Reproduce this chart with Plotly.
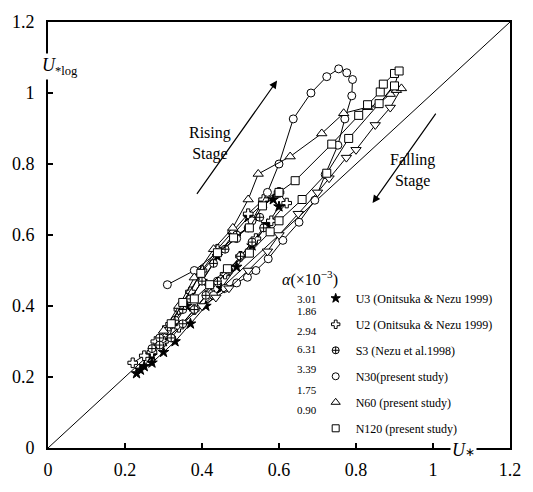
import plotly.graph_objects as go

# ---------------- data ----------------
u3_x = [0.23, 0.25, 0.27, 0.30, 0.33, 0.36, 0.40, 0.44, 0.48, 0.52, 0.56, 0.585,
        0.60, 0.57, 0.53, 0.49, 0.45, 0.41, 0.37, 0.33, 0.30, 0.27, 0.24]
u3_y = [0.21, 0.23, 0.26, 0.30, 0.35, 0.40, 0.47, 0.54, 0.60, 0.65, 0.69, 0.70,
        0.68, 0.63, 0.57, 0.51, 0.45, 0.40, 0.35, 0.30, 0.27, 0.24, 0.22]

u2_x = [0.22, 0.25, 0.28, 0.31, 0.34, 0.37, 0.40, 0.44, 0.48, 0.52, 0.56, 0.60,
        0.62, 0.58, 0.54, 0.50, 0.46, 0.42, 0.38, 0.34, 0.30, 0.27]
u2_y = [0.24, 0.26, 0.30, 0.34, 0.39, 0.44, 0.50, 0.56, 0.61, 0.66, 0.70, 0.72,
        0.69, 0.64, 0.59, 0.54, 0.49, 0.44, 0.39, 0.34, 0.30, 0.27]

s3_x = [0.27, 0.29, 0.31, 0.33, 0.35, 0.37, 0.40, 0.43, 0.46, 0.49, 0.52, 0.55,
        0.56, 0.53, 0.50, 0.47, 0.44, 0.41, 0.38, 0.35, 0.32, 0.29]
s3_y = [0.28, 0.31, 0.33, 0.36, 0.39, 0.42, 0.47, 0.52, 0.56, 0.60, 0.62, 0.65,
        0.62, 0.58, 0.54, 0.50, 0.47, 0.43, 0.39, 0.35, 0.31, 0.29]

n30_x = [0.31, 0.38, 0.44, 0.49, 0.53, 0.57, 0.60, 0.637, 0.683, 0.724, 0.755, 0.776,
         0.791, 0.789, 0.771, 0.753, 0.72, 0.693, 0.652, 0.61, 0.572, 0.54, 0.518,
         0.49, 0.46, 0.43]
n30_y = [0.46, 0.50, 0.55, 0.59, 0.64, 0.72, 0.80, 0.927, 1.0, 1.046, 1.068, 1.057,
         1.038, 0.992, 0.927, 0.853, 0.77, 0.698, 0.636, 0.585, 0.533, 0.50, 0.481,
         0.465, 0.45, 0.43]

n60_x = [0.30, 0.34, 0.38, 0.43, 0.48, 0.52, 0.546, 0.629, 0.711, 0.768, 0.83, 0.856,
         0.889, 0.905, 0.918,
         0.889, 0.85, 0.80, 0.775, 0.73, 0.70, 0.65, 0.60, 0.57, 0.52, 0.47, 0.436, 0.40]
n60_y = [0.33, 0.40, 0.48, 0.56, 0.62, 0.70, 0.772, 0.821, 0.886, 0.943, 0.96, 0.967,
         0.997, 1.008, 1.013,
         0.959, 0.91, 0.84, 0.818, 0.76, 0.72, 0.66, 0.60, 0.554, 0.50, 0.45, 0.424, 0.40]
n60_rising = 15  # first points drawn as up-triangles, the rest as down-triangles

n120_x = [0.32, 0.35, 0.397, 0.44, 0.482, 0.523, 0.557, 0.60, 0.642, 0.737, 0.807, 0.83,
          0.863, 0.871, 0.90, 0.912,
          0.90, 0.86, 0.781, 0.724, 0.66, 0.60, 0.577, 0.523, 0.466, 0.42, 0.38]
n120_y = [0.35, 0.41, 0.492, 0.55, 0.592, 0.62, 0.682, 0.72, 0.753, 0.856, 0.937, 0.967,
          1.003, 1.025, 1.055, 1.062,
          1.02, 0.97, 0.872, 0.774, 0.70, 0.64, 0.609, 0.549, 0.505, 0.46, 0.42]

diag = [0, 1.2]

series_names = ["U3 (Onitsuka & Nezu 1999)", "U2 (Onitsuka & Nezu 1999)",
                "S3 (Nezu et al.1998)", "N30(present study)",
                "N60 (present study)", "N120 (present study)"]
alpha_vals = ["3.01", "1.86", "2.94", "6.31", "3.39", "1.75", "0.90"]
tick_vals = [0, 0.2, 0.4, 0.6, 0.8, 1.0, 1.2]
tick_text = ["0", "0.2", "0.4", "0.6", "0.8", "1", "1.2"]

# ---------------- figure ----------------
SERIF = "Liberation Serif"
fig = go.Figure()

fig.add_trace(go.Scatter(x=diag, y=diag, mode="lines",
                         line=dict(color="black", width=1), showlegend=False,
                         hoverinfo="skip"))

def add_series(x, y, name, symbol, size, fill="white", legend_symbol=None):
    fig.add_trace(go.Scatter(
        x=x, y=y, mode="lines+markers", name=name, legendgroup=name,
        showlegend=False,
        line=dict(color="black", width=1),
        marker=dict(symbol=symbol, size=size, color=fill,
                    line=dict(color="black", width=1)),
    ))
    # legend entry: marker only, as in the reference
    fig.add_trace(go.Scatter(
        x=[None], y=[None], mode="markers", name=name, legendgroup=name,
        marker=dict(symbol=legend_symbol or symbol, size=size - 1, color=fill,
                    line=dict(color="black", width=1)),
    ))

add_series(u3_x, u3_y, series_names[0], "star", 8, fill="black")
add_series(u2_x, u2_y, series_names[1], "cross", 8)
add_series(s3_x, s3_y, series_names[2], "circle-cross", 8)
add_series(n30_x, n30_y, series_names[3], "circle", 8)
n60_sym = ["triangle-up"] * n60_rising + ["triangle-down"] * (len(n60_x) - n60_rising)
add_series(n60_x, n60_y, series_names[4], n60_sym, 9, legend_symbol="triangle-up")
add_series(n120_x, n120_y, series_names[5], "square", 8)

axis_common = dict(range=[0, 1.2], tickvals=tick_vals, ticktext=tick_text,
                   ticks="inside", ticklen=5, tickwidth=1.5, tickcolor="black",
                   showline=True, linecolor="black", linewidth=2, mirror=True,
                   showgrid=False, zeroline=False,
                   tickfont=dict(family=SERIF, size=18, color="black"))

fig.update_xaxes(**axis_common, ticklabelstandoff=4)
fig.update_yaxes(**axis_common, ticklabelstandoff=8)

def px2paper(px, py):
    return (px - 46) / 466, (454 - py) / 441

annotations = []
# axis titles
ax, ay = px2paper(38, 45)
annotations.append(dict(x=ax, y=ay, xref="paper", yref="paper", showarrow=False,
                        text="<i>U</i><sub>*log</sub>", bgcolor="white",
                        font=dict(family=SERIF, size=18, color="black")))
ax, ay = px2paper(479, 469)
annotations.append(dict(x=ax, y=ay, xref="paper", yref="paper", showarrow=False,
                        text="<i>U</i><span style='font-size:12px'>∗</span>",
                        bgcolor="white",
                        font=dict(family=SERIF, size=18, color="black")))
# stage labels
ax, ay = px2paper(186, 117)
annotations.append(dict(x=ax, y=ay, xref="paper", yref="paper", showarrow=False,
                        text="Rising<br>Stage",
                        font=dict(family=SERIF, size=16, color="black")))
ax, ay = px2paper(438, 167)
annotations.append(dict(x=ax, y=ay, xref="paper", yref="paper", showarrow=False,
                        text="Falling<br>Stage",
                        font=dict(family=SERIF, size=16, color="black")))
# arrows
annotations.append(dict(x=0.595, y=1.035, ax=0.379, ay=0.704, xref="x", yref="y",
                        axref="x", ayref="y", showarrow=True, arrowhead=2,
                        arrowsize=1.3, arrowwidth=1.2, arrowcolor="black", text=" "))
annotations.append(dict(x=0.843, y=0.690, ax=1.015, ay=0.954, xref="x", yref="y",
                        axref="x", ayref="y", showarrow=True, arrowhead=2,
                        arrowsize=1.3, arrowwidth=1.2, arrowcolor="black", text=" "))
# alpha column
ax, ay = px2paper(310, 279)
annotations.append(dict(x=ax, y=ay, xref="paper", yref="paper", showarrow=False,
                        text="<i>α</i>(×10<sup>−3</sup>)",
                        font=dict(family=SERIF, size=16, color="black")))
alpha_py = [300, 320, 341, 360, 381, 402, 423]
for v, py in zip(alpha_vals, alpha_py):
    ax, ay = px2paper(307, py)
    annotations.append(dict(x=ax, y=ay, xref="paper", yref="paper", showarrow=False,
                            text=v, font=dict(family=SERIF, size=11, color="black")))

lx, ly = px2paper(316, 284)
fig.update_layout(
    width=533, height=492,
    margin=dict(l=46, r=21, t=13, b=38),
    paper_bgcolor="white", plot_bgcolor="white",
    annotations=annotations,
    legend=dict(x=lx, y=ly, xanchor="left", yanchor="top",
                bgcolor="rgba(0,0,0,0)", traceorder="grouped", tracegroupgap=7,
                font=dict(family=SERIF, size=12, color="black")),
    showlegend=True,
)

fig.write_html("out.html")
